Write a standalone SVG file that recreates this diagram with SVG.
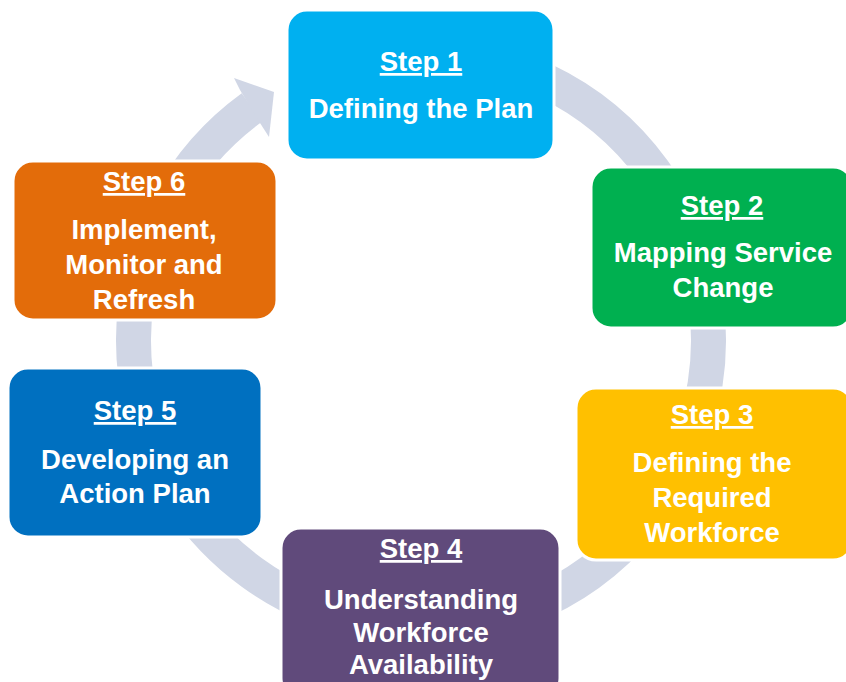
<svg xmlns="http://www.w3.org/2000/svg" width="846" height="682" viewBox="0 0 846 682">
  <style>
    .box { stroke: #ffffff; stroke-width: 3; }
    .t { font-family: "Liberation Sans", Arial, sans-serif; font-weight: bold; font-size: 27.5px; fill: #ffffff; text-anchor: middle; }
    .head { text-decoration: underline; }
    .ring { fill: none; stroke: #d0d6e5; stroke-width: 35; }
  </style>
  <rect width="846" height="682" fill="#ffffff"/>

  <!-- circular cycle arrow behind the steps -->
  <g id="connectors">
    <path class="ring" d="M 421 52.5 A 287.5 287.5 0 1 1 252 107.4"/>
    <polygon points="240,90 234,78 274,92 269,137 260,123" fill="#d0d6e5"/>
  </g>

  <g id="step1">
    <rect class="box" x="287" y="10" width="267" height="150" rx="20" fill="#00b0f0"/>
    <text class="t head" x="421" y="71">Step 1</text>
    <text class="t" x="421" y="118">Defining the Plan</text>
  </g>

  <g id="step2">
    <rect class="box" x="591" y="167" width="262" height="161" rx="20" fill="#00b050"/>
    <text class="t head" x="722" y="215">Step 2</text>
    <text class="t" x="723" y="262">Mapping Service</text>
    <text class="t" x="723" y="297">Change</text>
  </g>

  <g id="step3">
    <rect class="box" x="576" y="388" width="277" height="172" rx="20" fill="#ffc000"/>
    <text class="t head" x="712" y="424">Step 3</text>
    <text class="t" x="712" y="472">Defining the</text>
    <text class="t" x="712" y="507">Required</text>
    <text class="t" x="712" y="542">Workforce</text>
  </g>

  <g id="step4">
    <rect class="box" x="281" y="528" width="279" height="170" rx="20" fill="#604a7b"/>
    <text class="t head" x="421" y="558">Step 4</text>
    <text class="t" x="421" y="609">Understanding</text>
    <text class="t" x="421" y="642">Workforce</text>
    <text class="t" x="421" y="674">Availability</text>
  </g>

  <g id="step5">
    <rect class="box" x="8" y="368" width="254" height="169" rx="20" fill="#0070c0"/>
    <text class="t head" x="135" y="420">Step 5</text>
    <text class="t" x="135" y="469">Developing an</text>
    <text class="t" x="135" y="503">Action Plan</text>
  </g>

  <g id="step6">
    <rect class="box" x="13" y="161" width="264" height="159" rx="20" fill="#e36c0a"/>
    <text class="t head" x="144" y="191">Step 6</text>
    <text class="t" x="144" y="239">Implement,</text>
    <text class="t" x="144" y="274">Monitor and</text>
    <text class="t" x="144" y="309">Refresh</text>
  </g>
</svg>
